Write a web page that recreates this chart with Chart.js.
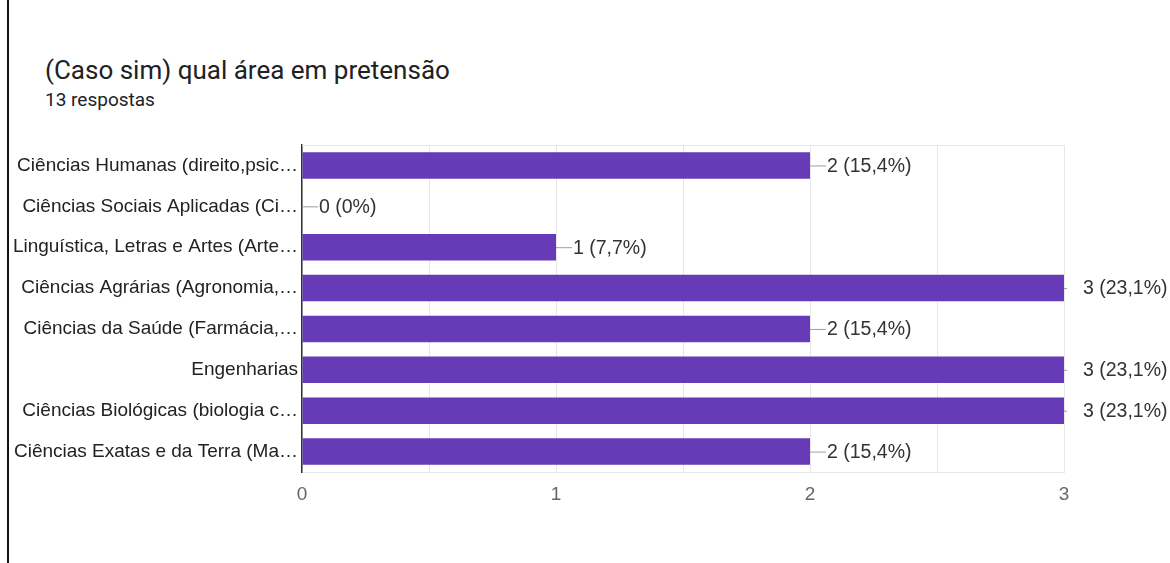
<!DOCTYPE html>
<html>
<head>
<meta charset="utf-8">
<script src="https://cdn.jsdelivr.net/npm/chart.js@4"></script>
<style>
  html, body { margin: 0; padding: 0; background: #fff; }
  #wrap { position: relative; width: 1170px; height: 563px; overflow: hidden; font-family: Roboto, sans-serif; }
  #leftline { position: absolute; left: 7px; top: 0; width: 2px; height: 563px; background: #111; }
  #title { position: absolute; left: 45px; top: 54px; font-size: 26px; line-height: 32px; color: #202124; white-space: nowrap; }
  #sub { position: absolute; left: 45px; top: 89px; font-size: 19px; line-height: 22px; color: #202124; white-space: nowrap; }
  #areaChart { position: absolute; left: 0; top: 0; }
</style>
</head>
<body>
<div id="wrap">
  <div id="leftline"></div>
  <div id="title">(Caso sim) qual área em pretensão</div>
  <div id="sub">13 respostas</div>
  <canvas id="areaChart" width="1170" height="563"></canvas>
</div>
<script>
// categorias como aparecem (cortadas) no formulario
const categories = [
  "Ciências Humanas (direito,psic…",
  "Ciências Sociais Aplicadas (Ci…",
  "Linguística, Letras e Artes (Arte…",
  "Ciências Agrárias (Agronomia,…",
  "Ciências da Saúde (Farmácia,…",
  "Engenharias",
  "Ciências Biológicas (biologia c…",
  "Ciências Exatas e da Terra (Ma…"
];
const counts = [2, 0, 1, 3, 2, 3, 3, 2];
const percents = ["15,4%", "0%", "7,7%", "23,1%", "15,4%", "23,1%", "23,1%", "15,4%"];
const tickLabels = ["0", "1", "2", "3"];

const barColor = "#673ab7";
const labelFont = "'Liberation Sans', Arial, sans-serif";

let ctx = document.getElementById('areaChart');

const frameBox = {
  id: 'frameBox',
  beforeDatasetsDraw(chart) {
    const a = chart.chartArea;
    const c = chart.ctx;
    c.save();
    c.strokeStyle = "#e6e6e6";
    c.lineWidth = 1;
    c.beginPath();
    c.moveTo(a.left, a.top + 0.5);
    c.lineTo(a.right, a.top + 0.5);
    c.stroke();
    c.restore();
  }
};

const valueLabels = {
  id: 'valueLabels',
  afterDatasetsDraw(chart) {
    const c = chart.ctx;
    const meta = chart.getDatasetMeta(0);
    const right = chart.chartArea.right;
    c.save();
    c.font = "19.5px " + labelFont;
    c.textBaseline = "middle";
    c.textAlign = "left";
    meta.data.forEach((bar, i) => {
      let x = bar.x, y = bar.y;
      let atEdge = x >= right - 1;
      c.strokeStyle = "#9e9e9e";
      c.lineWidth = 1;
      c.beginPath();
      c.moveTo(x, y + 0.5);
      c.lineTo(x + (atEdge ? 3 : 16), y + 0.5);
      c.stroke();
      c.fillStyle = "#333";
      c.fillText(counts[i] + " (" + percents[i] + ")", x + (atEdge ? 19 : 17), y + 1);
    });
    c.restore();
  }
};

new Chart(ctx, {
  type: 'bar',
  data: {
    labels: categories,
    datasets: [{
      label: "Respostas",
      data: counts,
      backgroundColor: barColor,
      borderWidth: 0,
      barPercentage: 0.65,
      categoryPercentage: 1
    }]
  },
  options: {
    indexAxis: 'y',
    responsive: false,
    animation: false,
    devicePixelRatio: 1,
    layout: { padding: { top: 145, right: 106, bottom: 51, left: 0 } },
    plugins: {
      legend: { display: false },
      tooltip: { enabled: false }
    },
    scales: {
      x: {
        min: 0,
        max: 3,
        afterFit: (s) => { s.height = 40; },
        ticks: {
          stepSize: 0.5,
          autoSkip: false,
          maxRotation: 0,
          padding: 11,
          color: "#666",
          font: { family: labelFont, size: 19 },
          callback: (v) => Number.isInteger(v) ? tickLabels[v] : ""
        },
        grid: { color: "#e6e6e6", drawTicks: false },
        border: { color: "#e6e6e6" }
      },
      y: {
        afterFit: (s) => { s.width = 302; },
        ticks: {
          padding: 4,
          color: "#222",
          font: { family: labelFont, size: 19 },
          autoSkip: false
        },
        grid: { display: false, drawTicks: false },
        border: { color: "#333", width: 1.5 }
      }
    }
  },
  plugins: [frameBox, valueLabels]
});
</script>
</body>
</html>
